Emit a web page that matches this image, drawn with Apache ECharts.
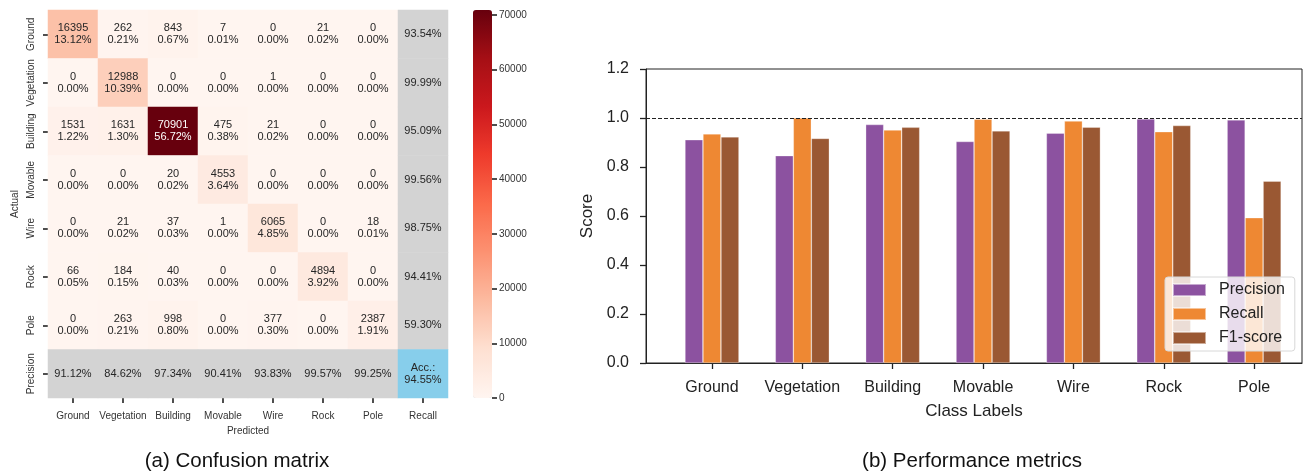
<!DOCTYPE html>
<html>
<head>
<meta charset="utf-8">
<script src="https://cdn.jsdelivr.net/npm/echarts@6/dist/echarts.min.js"></script>
<style>
html,body{margin:0;padding:0;background:#fff;}
#chart{width:1305px;height:474px;}
</style>
</head>
<body>
<div id="chart"></div>
<script>
// ---------- data ----------
const categories = ['Ground', 'Vegetation', 'Building', 'Movable', 'Wire', 'Rock', 'Pole'];
const cmRowLabels = ['Ground', 'Vegetation', 'Building', 'Movable', 'Wire', 'Rock', 'Pole', 'Precision'];
const cmColLabels = ['Ground', 'Vegetation', 'Building', 'Movable', 'Wire', 'Rock', 'Pole', 'Recall'];
// confusion counts: rows = actual, cols = predicted
const countsGround     = [16395, 262, 843, 7, 0, 21, 0];
const countsVegetation = [0, 12988, 0, 0, 1, 0, 0];
const countsBuilding   = [1531, 1631, 70901, 475, 21, 0, 0];
const countsMovable    = [0, 0, 20, 4553, 0, 0, 0];
const countsWire       = [0, 21, 37, 1, 6065, 0, 18];
const countsRock       = [66, 184, 40, 0, 0, 4894, 0];
const countsPole       = [0, 263, 998, 0, 377, 0, 2387];
const recallPct    = [93.54, 99.99, 95.09, 99.56, 98.75, 94.41, 59.30];
const precisionPct = [91.12, 84.62, 97.34, 90.41, 93.83, 99.57, 99.25];
const accuracyPct = 94.55;
const colorbarTicks = [0, 10000, 20000, 30000, 40000, 50000, 60000, 70000];

// performance metrics
const precisionScore = [0.9112, 0.8462, 0.9734, 0.9041, 0.9383, 0.9957, 0.9925];
const recallScore    = [0.9354, 0.9999, 0.9509, 0.9956, 0.9875, 0.9441, 0.5930];
const f1Score        = [0.9231, 0.9166, 0.9620, 0.9476, 0.9623, 0.9692, 0.7424];
const categoryIndex = [0, 1, 2, 3, 4, 5, 6];

// ---------- build ----------
const countRows = [countsGround, countsVegetation, countsBuilding, countsMovable, countsWire, countsRock, countsPole];
let total = 0;
countRows.forEach(r => r.forEach(v => total += v));
const maxCount = Math.max(...countRows.map(r => Math.max(...r)));

const coreData = [];
countRows.forEach((row, r) => row.forEach((v, c) => {
  coreData.push({value: [c, r, v], label: {color: v > 40000 ? '#ffffff' : '#262626'}});
}));
const greyData = [];
recallPct.forEach((v, r) => greyData.push([7, r, v]));
precisionPct.forEach((v, c) => greyData.push([c, 7, v]));
const accData = [[7, 7, accuracyPct]];

const reds = ['#fff5f0', '#fee0d2', '#fcbba1', '#fc9272', '#fb6a4a', '#ef3b2c', '#cb181d', '#a50f15', '#67000d'];
const FONT = '"Liberation Sans", Arial, Helvetica, sans-serif';
const txt = '#222';

const chart = echarts.init(document.getElementById('chart'), null, {renderer: 'canvas'});
const option = {
  animation: false,
  textStyle: {fontFamily: FONT},
  title: [
    {text: '(a) Confusion matrix', left: 232, top: 446, textAlign: 'center',
     textStyle: {fontSize: 20.5, fontWeight: 'normal', color: '#111', fontFamily: FONT}},
    {text: '(b) Performance metrics', left: 967, top: 446, textAlign: 'center',
     textStyle: {fontSize: 20.5, fontWeight: 'normal', color: '#111', fontFamily: FONT}}
  ],
  grid: [
    {left: 48, top: 10, width: 400, height: 388},
    {left: 646, top: 69, width: 656, height: 294, show: true, borderColor: '#222', borderWidth: 1},
    {left: 473, top: 10, width: 19, height: 388}
  ],
  legend: {
    data: ['Precision', 'Recall', 'F1-score'],
    orient: 'vertical', left: 1165, top: 277,
    icon: 'rect', itemWidth: 33, itemHeight: 12, itemGap: 8,
    textStyle: {fontSize: 16, color: txt, padding: [0, 0, 0, 8]},
    backgroundColor: 'rgba(255,255,255,0.8)', borderColor: '#d8d8d8', borderWidth: 1, borderRadius: 3,
    padding: [5, 10, 5, 7]
  },
  visualMap: {
    type: 'continuous', seriesIndex: 0, dimension: 2,
    min: 0, max: maxCount, calculable: false, orient: 'vertical',
    left: 473, top: 10, itemWidth: 19, itemHeight: 388, padding: 0,
    text: null, showLabel: false, hoverLink: false,
    inRange: {color: reds}
  },
  xAxis: [
    {gridIndex: 0, type: 'category', data: cmColLabels, position: 'bottom',
     axisLine: {show: false},
     axisTick: {show: true, alignWithLabel: true, interval: 0, length: 5, lineStyle: {color: '#222', width: 1.6}},
     axisLabel: {fontSize: 10, color: '#333', margin: 13, interval: 0},
     splitLine: {show: false},
     name: 'Predicted', nameLocation: 'middle', nameGap: 28,
     nameTextStyle: {fontSize: 10, color: '#333'}},
    {gridIndex: 1, type: 'value', min: -0.73, max: 6.53,
     axisLine: {show: true, onZero: false, lineStyle: {color: '#222', width: 1}},
     axisTick: {show: true, length: 6, customValues: categoryIndex, lineStyle: {color: '#222', width: 1.3}},
     axisLabel: {fontSize: 16, color: txt, margin: 17, customValues: categoryIndex,
                 formatter: v => categories[Math.round(v)] || ''},
     splitLine: {show: false},
     name: 'Class Labels', nameLocation: 'middle', nameGap: 40,
     nameTextStyle: {fontSize: 17, color: txt}},
    {gridIndex: 2, type: 'value', show: false, min: 0, max: 1}
  ],
  yAxis: [
    {gridIndex: 0, type: 'category', data: cmRowLabels, inverse: true,
     axisLine: {show: false},
     axisTick: {show: true, alignWithLabel: true, interval: 0, length: 5, lineStyle: {color: '#222', width: 1.6}},
     axisLabel: {fontSize: 10, color: '#333', rotate: 90, margin: 12, interval: 0},
     splitLine: {show: false},
     name: 'Actual', nameLocation: 'middle', nameGap: 28, nameRotate: 90,
     nameTextStyle: {fontSize: 10, color: '#333'}},
    {gridIndex: 1, type: 'value', min: 0, max: 1.2, interval: 0.2,
     axisLine: {show: true, onZero: false, lineStyle: {color: '#222', width: 1}},
     axisTick: {show: true, length: 6, lineStyle: {color: '#222', width: 1.3}},
     axisLabel: {fontSize: 16, color: txt, margin: 17, formatter: v => v.toFixed(1)},
     splitLine: {show: false},
     name: 'Score', nameLocation: 'middle', nameGap: 43, nameRotate: 90,
     nameTextStyle: {fontSize: 17, color: txt}},
    {gridIndex: 2, type: 'value', min: 0, max: maxCount, position: 'right',
     axisLine: {show: false, onZero: false},
     axisTick: {show: true, inside: false, length: 5, customValues: colorbarTicks, lineStyle: {color: '#222', width: 1.6}},
     axisLabel: {show: true, fontSize: 10, color: '#333', margin: 7, customValues: colorbarTicks,
                 formatter: v => String(v)},
     splitLine: {show: false}}
  ],
  series: [
    {type: 'heatmap', xAxisIndex: 0, yAxisIndex: 0, data: coreData,
     label: {show: true, fontSize: 11, lineHeight: 12, color: '#262626',
             formatter: p => p.value[2] + '\n' + (p.value[2] / total * 100).toFixed(2) + '%'},
     emphasis: {disabled: true}},
    {type: 'heatmap', xAxisIndex: 0, yAxisIndex: 0, data: greyData,
     itemStyle: {color: '#d3d3d3'},
     label: {show: true, fontSize: 11, color: '#262626', formatter: p => p.value[2].toFixed(2) + '%'},
     emphasis: {disabled: true}},
    {type: 'heatmap', xAxisIndex: 0, yAxisIndex: 0, data: accData,
     itemStyle: {color: '#87ceeb'},
     label: {show: true, fontSize: 11, lineHeight: 12, color: '#262626',
             formatter: p => 'Acc.:\n' + p.value[2].toFixed(2) + '%'},
     emphasis: {disabled: true}},
    {type: 'bar', name: 'Precision', xAxisIndex: 1, yAxisIndex: 1,
     data: precisionScore.map((v, i) => [categoryIndex[i], v]),
     barWidth: 18, barGap: '0%',
     itemStyle: {color: '#8c52a0', borderColor: 'rgba(255,255,255,0.5)', borderWidth: 0.6},
     markLine: {silent: true, symbol: 'none', label: {show: false},
                lineStyle: {type: [4, 2], color: '#222', width: 1},
                data: [{yAxis: 1.0}]}},
    {type: 'bar', name: 'Recall', xAxisIndex: 1, yAxisIndex: 1,
     data: recallScore.map((v, i) => [categoryIndex[i], v]),
     barWidth: 18, barGap: '0%',
     itemStyle: {color: '#ee8833', borderColor: 'rgba(255,255,255,0.5)', borderWidth: 0.6}},
    {type: 'bar', name: 'F1-score', xAxisIndex: 1, yAxisIndex: 1,
     data: f1Score.map((v, i) => [categoryIndex[i], v]),
     barWidth: 18, barGap: '0%',
     itemStyle: {color: '#9a5833', borderColor: 'rgba(255,255,255,0.5)', borderWidth: 0.6}}
  ]
};
chart.setOption(option);
</script>
</body>
</html>
